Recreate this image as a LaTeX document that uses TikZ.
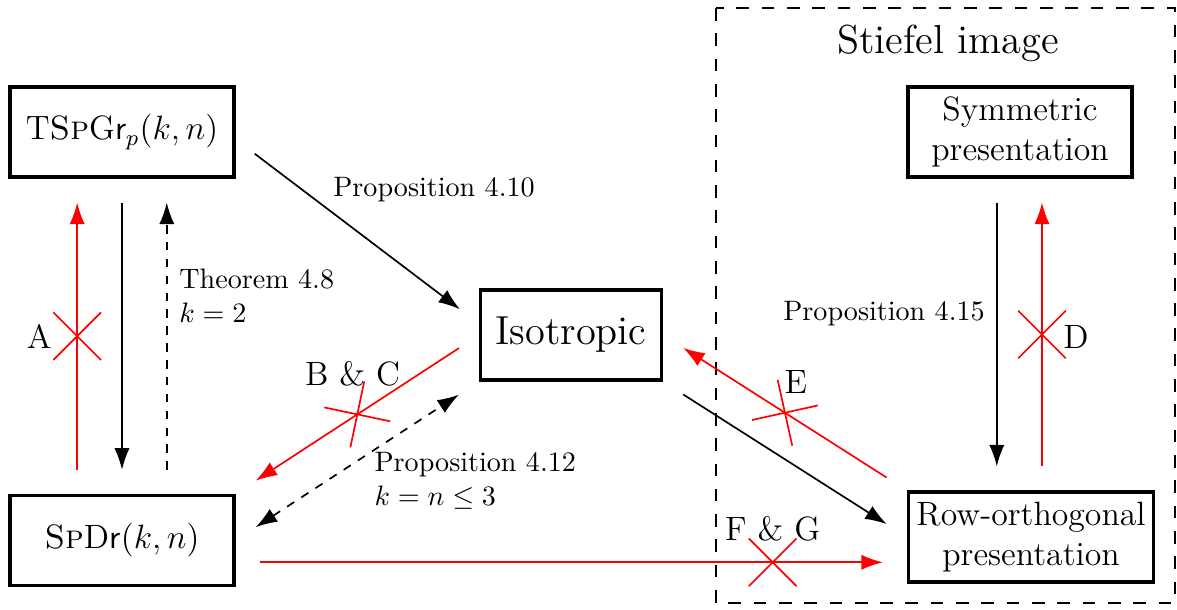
\documentclass[tikz,border=0pt]{standalone}
\usepackage{amsmath,amssymb}
\usetikzlibrary{positioning,arrows.meta,shapes.misc}

\begin{document}
\begin{tikzpicture}[
node distance=3.94cm,
>={Latex[length=2.7mm,width=1.9mm]},
box/.style={rectangle,draw,line width=1.1pt,minimum width=2.8cm,minimum height=1.125cm,
align=center,font=\large,inner xsep=0.1cm},
arrow/.style={->,semithick,shorten >=0.3cm,shorten <=0.3cm},
redarrow/.style={arrow,red},
twoway/.style={arrow,<->,dashed},
xmark/.style={cross out,draw=red,semithick,solid,shorten >=0pt,shorten <=0pt,
minimum size=0.575cm,inner sep=0pt,sloped},
lbl/.style={font=\large,inner sep=1pt},
proptext/.style={inner sep=1pt,align=left}
]
\useasboundingbox (0,0) rectangle (14.7125,-7.6125);

% the five spaces
\node[box] (tsp) at (1.525,-1.65) {$\mathrm{T}\textsc{Sp}\mathrm{G}\mathsf{r}_p(k,n)$};
\node[box,below=of tsp] (spdr) {$\textsc{Sp}\mathrm{D}\mathsf{r}(k,n)$};
\node[box,font=\Large,minimum width=2.26cm] (iso) at (7.1375,-4.1875) {Isotropic};
\node[box] (sym) at (12.75,-1.65) {Symmetric\\presentation};
\node[box] (row) at (12.8875,-6.7125) {Row-orthogonal\\presentation};

% Stiefel image frame
\draw[dash pattern=on 4.5pt off 4.5pt,semithick] (8.95,-0.1) rectangle (14.6875,-7.5375);
\node[font=\Large] (stiefel) at (11.85,-0.54) {Stiefel image};

% left column
\draw[redarrow] ([xshift=-0.56cm]spdr.north) -- node[xmark] (xa) {} ([xshift=-0.56cm]tsp.south);
\draw[arrow] (tsp.south) -- (spdr.north);
\draw[arrow,dashed] ([xshift=0.56cm]spdr.north) -- ([xshift=0.56cm]tsp.south);
\node[lbl] at ([xshift=-0.475cm]xa.center) {A};
\node[proptext,anchor=west] at (2.2,-3.7) {Theorem 4.8\\$k=2$};

% to and from Isotropic
\draw[arrow] ([yshift=-0.09cm]tsp.east) -- ([yshift=0.14cm]iso.west);
\node[proptext] at (5.425,-2.375) {Proposition 4.10};
\draw[redarrow] (iso.west) -- node[xmark] (xbc) {} (spdr.north east);
\node[lbl] at ([shift={(-0.06,0.51)}]xbc.center) {B \& C};
\draw[twoway] (spdr.east) -- (iso.south west);
\node[proptext,anchor=west] at (4.64,-6.01) {Proposition 4.12\\$k=n\leq 3$};
\draw[arrow] (iso.south east) -- (row.west);
\draw[redarrow] (row.north west) -- node[xmark] (xe) {} (iso.east);
\node[lbl] at ([shift={(0.1375,0.39)}]xe.center) {E};

% bottom row
\draw[redarrow] ([yshift=-0.275cm]spdr.east) -- node[xmark,pos=0.8] (xfg) {} ([yshift=-0.275cm]spdr.east -| row.west);
\node[lbl] at ([yshift=0.425cm]xfg.center) {F \& G};

% right column
\draw[arrow] ([xshift=-0.29cm]sym.south) -- ([xshift=-0.29cm]sym.south |- row.north);
\draw[redarrow] ([xshift=0.275cm]sym.south |- row.north) -- node[xmark] (xd) {} ([xshift=0.275cm]sym.south);
\node[lbl] at ([shift={(0.425,-0.025)}]xd.center) {D};
\node[proptext] at (11.05,-3.925) {Proposition 4.15};
\end{tikzpicture}
\end{document}
